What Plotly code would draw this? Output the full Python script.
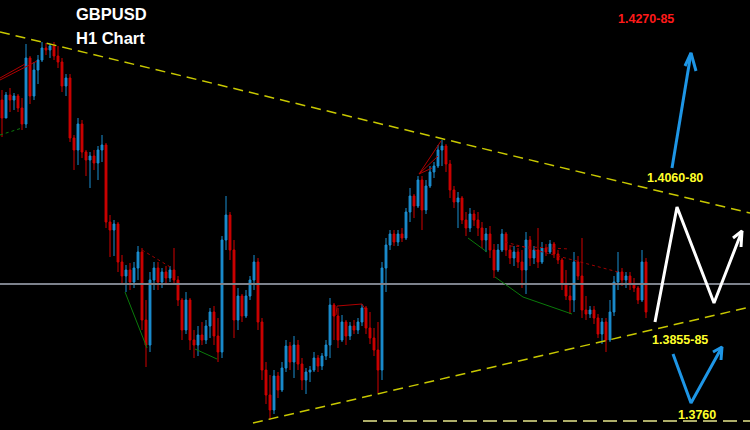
import plotly.graph_objects as go

# ---------------- data (GBPUSD H1, prices) ----------------
opens = [1.4200,1.4182,1.4205,1.4200,1.4204,1.4192,1.4176,1.4242,1.4204,1.4230,
         1.4240,1.4252,1.4250,1.4254,1.4244,1.4238,1.4214,1.4222,1.4162,1.4150,
         1.4176,1.4148,1.4140,1.4144,1.4137,1.4150,1.4155,1.4078,1.4070,1.4076,
         1.4038,1.4024,1.4030,1.4018,1.4032,1.4048,1.3980,1.3955,1.4020,1.4032,
         1.4018,1.4028,1.4022,1.4030,1.4020,1.4000,1.3970,1.4000,1.3960,1.3955,
         1.3965,1.3960,1.3974,1.3988,1.3964,1.3948,1.4060,1.4085,1.4050,1.3980,
         1.4004,1.3984,1.4004,1.4020,1.4038,1.3978,1.3930,1.3905,1.3890,1.3924,
         1.3910,1.3932,1.3954,1.3938,1.3955,1.3936,1.3920,1.3928,1.3930,1.3942,
         1.3934,1.3944,1.3955,1.3995,1.3984,1.3960,1.3978,1.3964,1.3974,1.3970,
         1.3978,1.3992,1.3972,1.3962,1.3950,1.3930,1.4032,1.4055,1.4066,1.4058,
         1.4066,1.4062,1.4088,1.4104,1.4094,1.4120,1.4090,1.4114,1.4128,1.4134,
         1.4150,1.4154,1.4136,1.4110,1.4098,1.4102,1.4080,1.4072,1.4086,1.4080,
         1.4072,1.4060,1.4066,1.4050,1.4030,1.4050,1.4066,1.4050,1.4042,1.4048,
         1.4038,1.4030,1.4060,1.4042,1.4050,1.4038,1.4052,1.4048,1.4056,1.4046,
         1.4040,1.4016,1.4004,1.4000,1.4038,1.4024,1.3990,1.3986,1.3990,1.3982,
         1.3966,1.3978,1.3960,1.3988,1.4018,1.4028,1.4020,1.4024,1.4016,1.4012,
         1.4000,1.4038]
highs = [1.4210,1.4208,1.4212,1.4207,1.4206,1.4202,1.4256,1.4244,1.4238,1.4245,
         1.4258,1.4257,1.4256,1.4258,1.4254,1.4242,1.4226,1.4226,1.4165,1.4182,
         1.4180,1.4150,1.4148,1.4150,1.4154,1.4165,1.4157,1.4085,1.4080,1.4078,
         1.4045,1.4035,1.4037,1.4038,1.4054,1.4052,1.4000,1.4028,1.4038,1.4038,
         1.4032,1.4034,1.4034,1.4052,1.4024,1.4002,1.4008,1.4002,1.3970,1.3974,
         1.3978,1.3980,1.3992,1.3994,1.3982,1.4064,1.4104,1.4088,1.4060,1.4012,
         1.4006,1.4010,1.4024,1.4045,1.4042,1.3982,1.3938,1.3925,1.3930,1.3928,
         1.3938,1.3960,1.3958,1.3964,1.3960,1.3942,1.3932,1.3934,1.3948,1.3945,
         1.3947,1.3960,1.4002,1.3997,1.3992,1.3985,1.3980,1.3978,1.3980,1.3982,
         1.3996,1.3994,1.3988,1.3972,1.3978,1.4038,1.4062,1.4070,1.4070,1.4070,
         1.4072,1.4092,1.4112,1.4106,1.4124,1.4124,1.4120,1.4134,1.4138,1.4155,
         1.4160,1.4156,1.4140,1.4114,1.4108,1.4104,1.4088,1.4092,1.4090,1.4088,
         1.4078,1.4072,1.4074,1.4056,1.4056,1.4071,1.4068,1.4055,1.4054,1.4052,
         1.4050,1.4068,1.4064,1.4054,1.4072,1.4058,1.4056,1.4060,1.4058,1.4050,
         1.4042,1.4030,1.4014,1.4048,1.4044,1.4062,1.4004,1.3994,1.3994,1.3986,
         1.3982,1.3982,1.4000,1.4024,1.4048,1.4032,1.4028,1.4028,1.4022,1.4014,
         1.4050,1.4042]
lows = [1.4163,1.4182,1.4188,1.4190,1.4188,1.4170,1.4172,1.4196,1.4200,1.4216,
        1.4238,1.4245,1.4242,1.4240,1.4232,1.4208,1.4204,1.4158,1.4130,1.4135,
        1.4142,1.4124,1.4112,1.4130,1.4120,1.4138,1.4072,1.4043,1.4044,1.4028,
        1.4016,1.4008,1.4010,1.4012,1.4020,1.3970,1.3933,1.3948,1.4010,1.4010,
        1.4012,1.4016,1.4018,1.4015,1.3994,1.3960,1.3966,1.3950,1.3942,1.3944,
        1.3955,1.3956,1.3962,1.3955,1.3938,1.3942,1.4050,1.4040,1.3962,1.3970,
        1.3978,1.3982,1.4000,1.4010,1.3970,1.3920,1.3896,1.3880,1.3886,1.3902,
        1.3908,1.3928,1.3930,1.3922,1.3930,1.3910,1.3906,1.3918,1.3928,1.3928,
        1.3930,1.3940,1.3942,1.3960,1.3952,1.3958,1.3955,1.3960,1.3966,1.3966,
        1.3974,1.3966,1.3956,1.3944,1.3907,1.3920,1.4008,1.4050,1.4054,1.4054,
        1.4058,1.4060,1.4078,1.4082,1.4092,1.4070,1.4086,1.4112,1.4122,1.4132,
        1.4134,1.4128,1.4102,1.4092,1.4072,1.4076,1.4064,1.4068,1.4074,1.4064,
        1.4052,1.4048,1.4042,1.4022,1.4028,1.4048,1.4044,1.4036,1.4034,1.4032,
        1.4012,1.4006,1.4034,1.4036,1.4032,1.4036,1.4044,1.4046,1.4042,1.4036,
        1.4010,1.4000,1.3986,1.3988,1.4020,1.3982,1.3980,1.3982,1.3976,1.3962,
        1.3956,1.3948,1.3958,1.3984,1.4010,1.4014,1.4012,1.4010,1.4008,1.3996,
        1.3998,1.3982]
closes = [1.4182,1.4205,1.4200,1.4204,1.4192,1.4176,1.4242,1.4204,1.4230,1.4240,
          1.4252,1.4250,1.4254,1.4244,1.4238,1.4214,1.4222,1.4162,1.4150,1.4176,
          1.4148,1.4140,1.4144,1.4137,1.4150,1.4155,1.4078,1.4070,1.4076,1.4038,
          1.4024,1.4030,1.4018,1.4032,1.4048,1.3980,1.3955,1.4020,1.4032,1.4018,
          1.4028,1.4022,1.4030,1.4020,1.4000,1.3970,1.4000,1.3960,1.3955,1.3965,
          1.3960,1.3974,1.3988,1.3964,1.3948,1.4060,1.4085,1.4050,1.3980,1.4004,
          1.3984,1.4004,1.4020,1.4038,1.3978,1.3930,1.3905,1.3890,1.3924,1.3910,
          1.3932,1.3954,1.3938,1.3955,1.3936,1.3920,1.3928,1.3930,1.3942,1.3934,
          1.3944,1.3955,1.3995,1.3984,1.3960,1.3978,1.3964,1.3974,1.3970,1.3978,
          1.3992,1.3972,1.3962,1.3950,1.3930,1.4032,1.4055,1.4066,1.4058,1.4066,
          1.4062,1.4088,1.4104,1.4094,1.4120,1.4090,1.4114,1.4128,1.4134,1.4150,
          1.4154,1.4136,1.4110,1.4098,1.4102,1.4080,1.4072,1.4086,1.4080,1.4072,
          1.4060,1.4066,1.4050,1.4030,1.4050,1.4066,1.4050,1.4042,1.4048,1.4038,
          1.4030,1.4060,1.4042,1.4050,1.4038,1.4052,1.4048,1.4056,1.4046,1.4040,
          1.4016,1.4004,1.4000,1.4038,1.4024,1.3990,1.3986,1.3990,1.3982,1.3966,
          1.3978,1.3960,1.3988,1.4018,1.4028,1.4020,1.4024,1.4016,1.4012,1.4000,
          1.4038,1.3988]
bars = list(range(len(closes)))
current_price = 1.4016

# analysis levels / drawings (bar index, price)
upper_trend = ([-0.5, 187], [1.4268, 1.4087])
lower_trend = ([62.75, 187], [1.3877, 1.3993])
support_line = ([90.25, 187], [1.3879, 1.3879])
white_path = ([163.25, 168.75, 178, 185], [1.3978, 1.4093, 1.3997, 1.4069])
white_head = ([182.75, 185, 184.75], [1.4062, 1.4069, 1.4053])
blue_up = ([167.5, 172.25], [1.4132, 1.4247])
blue_up_head = ([170.75, 172.25, 173.5], [1.4234, 1.4247, 1.4229])
blue_v = ([167.75, 172.25, 180], [1.3946, 1.3897, 1.3953])
blue_v_head = ([177.75, 180, 179.75], [1.3948, 1.3953, 1.3940])

red_solid = [
    ([-0.5, 8.75], [1.4220, 1.4239]),
    ([-0.5, 5.75], [1.4222, 1.4236]),
    ([83.5, 83.75, 90, 90.75], [1.3985, 1.3994, 1.3996, 1.3991]),
    ([104.25, 109.75], [1.4126, 1.4159]),
    ([104.25, 109], [1.4126, 1.4144]),
    ([104.25, 107.5], [1.4126, 1.4132]),
]
red_dotted = [
    ([35, 42.5], [1.4050, 1.4032]),
    ([125.75, 154], [1.4058, 1.4028]),
    ([127, 142], [1.4054, 1.4051]),
]
green_lines = [
    ([30.75, 36.25], [1.4008, 1.3952]),
    ([48.25, 53.75], [1.3951, 1.3941]),
    ([116.5, 121.25], [1.4062, 1.4048]),
    ([123.25, 130.25, 142.5], [1.4023, 1.4003, 1.3986]),
]
green_dotted = [([-0.5, 5], [1.4165, 1.4172])]

BLUE = "#1b8fd2"
RED = "#d00000"

fig = go.Figure()

# current price line
fig.add_trace(go.Scatter(x=[-0.5, 187], y=[current_price, current_price], mode="lines",
                         line=dict(color="#7d828c", width=2), hoverinfo="skip"))

fig.add_trace(go.Candlestick(
    x=bars, open=opens, high=highs, low=lows, close=closes,
    increasing=dict(line=dict(color=BLUE, width=1), fillcolor=BLUE),
    decreasing=dict(line=dict(color=RED, width=1), fillcolor=RED),
    whiskerwidth=0, hoverinfo="skip"))

def line(xy, color, width, dash="solid"):
    fig.add_trace(go.Scatter(x=xy[0], y=xy[1], mode="lines",
                             line=dict(color=color, width=width, dash=dash),
                             hoverinfo="skip"))

for seg in red_solid:
    line(seg, "#b00000", 1)
for seg in red_dotted:
    line(seg, "#a00000", 1, "3px,3px")
for seg in green_lines:
    line(seg, "#0a7a0a", 1)
for seg in green_dotted:
    line(seg, "#0a7a0a", 1, "3px,3px")

line(upper_trend, "#c8c800", 1.5, "10px,6px")
line(lower_trend, "#c8c800", 1.5, "10px,6px")
line(support_line, "#e6e68c", 1.5, "14px,6px")

line(white_path, "#ffffff", 3)
line(white_head, "#ffffff", 3)
line(blue_up, "#1e96e6", 3)
line(blue_up_head, "#1e96e6", 3)
line(blue_v, "#1e96e6", 3)
line(blue_v_head, "#1e96e6", 3)

FONT = "Liberation Sans, Arial, sans-serif"
labels = [
    ("<b>GBPUSD</b>", 0.149, 0.967, "#ffffff", 16.5),
    ("<b>H1 Chart</b>", 0.147, 0.912, "#ffffff", 16.5),
    ("<b>1.4270-85</b>", 0.861, 0.956, "#ff1a1a", 12.5),
    ("<b>1.4060-80</b>", 0.900, 0.586, "#ffff2a", 12.5),
    ("<b>1.3855-85</b>", 0.907, 0.209, "#ffff2a", 12.5),
    ("<b>1.3760</b>", 0.929, 0.035, "#ffff2a", 12.5),
]
for txt, x, y, c, s in labels:
    fig.add_annotation(text=txt, x=x, y=y, xref="paper", yref="paper",
                       xanchor="center", yanchor="middle", showarrow=False,
                       font=dict(family=FONT, size=s, color=c))

fig.update_layout(
    width=750, height=430, margin=dict(l=0, r=0, t=0, b=0),
    paper_bgcolor="#000000", plot_bgcolor="#000000",
    showlegend=False, boxgap=0.35,
    xaxis=dict(range=[-0.5, 187], visible=False, rangeslider=dict(visible=False),
               showgrid=False, zeroline=False, fixedrange=True),
    yaxis=dict(range=[1.3870, 1.4300], visible=False, showgrid=False,
               zeroline=False, fixedrange=True),
)

fig.write_html("out.html", config={"displayModeBar": False},
               post_script="document.body.style.margin='0';document.body.style.background='#000';document.body.style.overflow='hidden';")
